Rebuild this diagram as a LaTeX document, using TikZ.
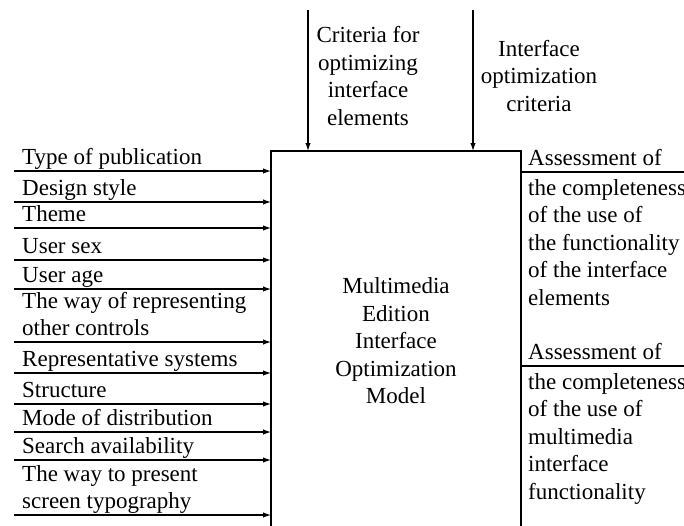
\documentclass[tikz,border=0pt]{standalone}
\usepackage{fontspec}
\setmainfont{Liberation Serif}
\usepackage{tikz}
\usetikzlibrary{positioning,arrows.meta}

\begin{document}
\begin{tikzpicture}[x=1pt,y=-1pt]
      \tikzstyle{txt} = [inner sep=0pt, font=\fontsize{23}{27.5}\selectfont]
      \tikzstyle{lbl} = [txt, anchor=south west, align=left, text depth=5pt]
      \tikzstyle{arr} = [line width=1.2pt, -{Latex[length=8pt,width=5.5pt]}]
      \useasboundingbox (0,0) rectangle (684,525);
      % BOX
      \coordinate (bl) at (271,530); \coordinate (tl) at (271,151);
      \coordinate (tr) at (521,151); \coordinate (br) at (521,530);
      \draw[line width=1.6pt] (bl) -- (tl) -- (tr) -- (br);
      \node[txt, align=center] (model) at (396,341)
      {Multimedia\\Edition\\Interface\\Optimization\\Model};
      % INPUTS
      \foreach \y/\t [count=\i] in {171/{Type of publication},
        202/{Design style}, 228/{Theme}, 260/{User sex}, 289/{User age},
        342/{The way of representing\\other controls},
        373/{Representative systems}, 404/{Structure},
        432/{Mode of distribution}, 460/{Search availability},
        515/{The way to present\\screen typography}}{
        \coordinate (s\i) at (14,\y); \coordinate (e\i) at (271,\y);
        \node[lbl] (in\i) at (22,\y-1) {\t};
        \draw[arr] (s\i) -- (e\i);
      }
      % CONTROLS
      \coordinate (c1) at (308,10); \coordinate (d1) at (308,151);
      \coordinate (c2) at (473,10); \coordinate (d2) at (473,151);
      \draw[arr] (c1) -- (d1); \draw[arr] (c2) -- (d2);
      \node[txt, align=center] (crit1) at (368,76)
      {Criteria for\\optimizing\\interface\\elements};
      \node[txt, align=center] (crit2) at (539,76)
      {Interface\\optimization\\criteria};
      % OUTPUTS
      \coordinate (o1) at (521,172); \coordinate (p1) at (684,172);
      \coordinate (o2) at (521,366); \coordinate (p2) at (684,366);
      \draw[line width=1.2pt] (o1) -- (p1); \draw[line width=1.2pt] (o2) -- (p2);
      \node[lbl] (out1) at (528,171) {Assessment of};
      \node[lbl] (out2) at (528,365) {Assessment of};
      \node[txt, anchor=north west, align=left] (res1) at (528,179)
      {the completeness\\of the use of\\the functionality\\of the interface\\elements};
      \node[txt, anchor=north west, align=left] (res2) at (528,373)
      {the completeness\\of the use of\\multimedia\\interface\\functionality};
\end{tikzpicture}
\end{document}
